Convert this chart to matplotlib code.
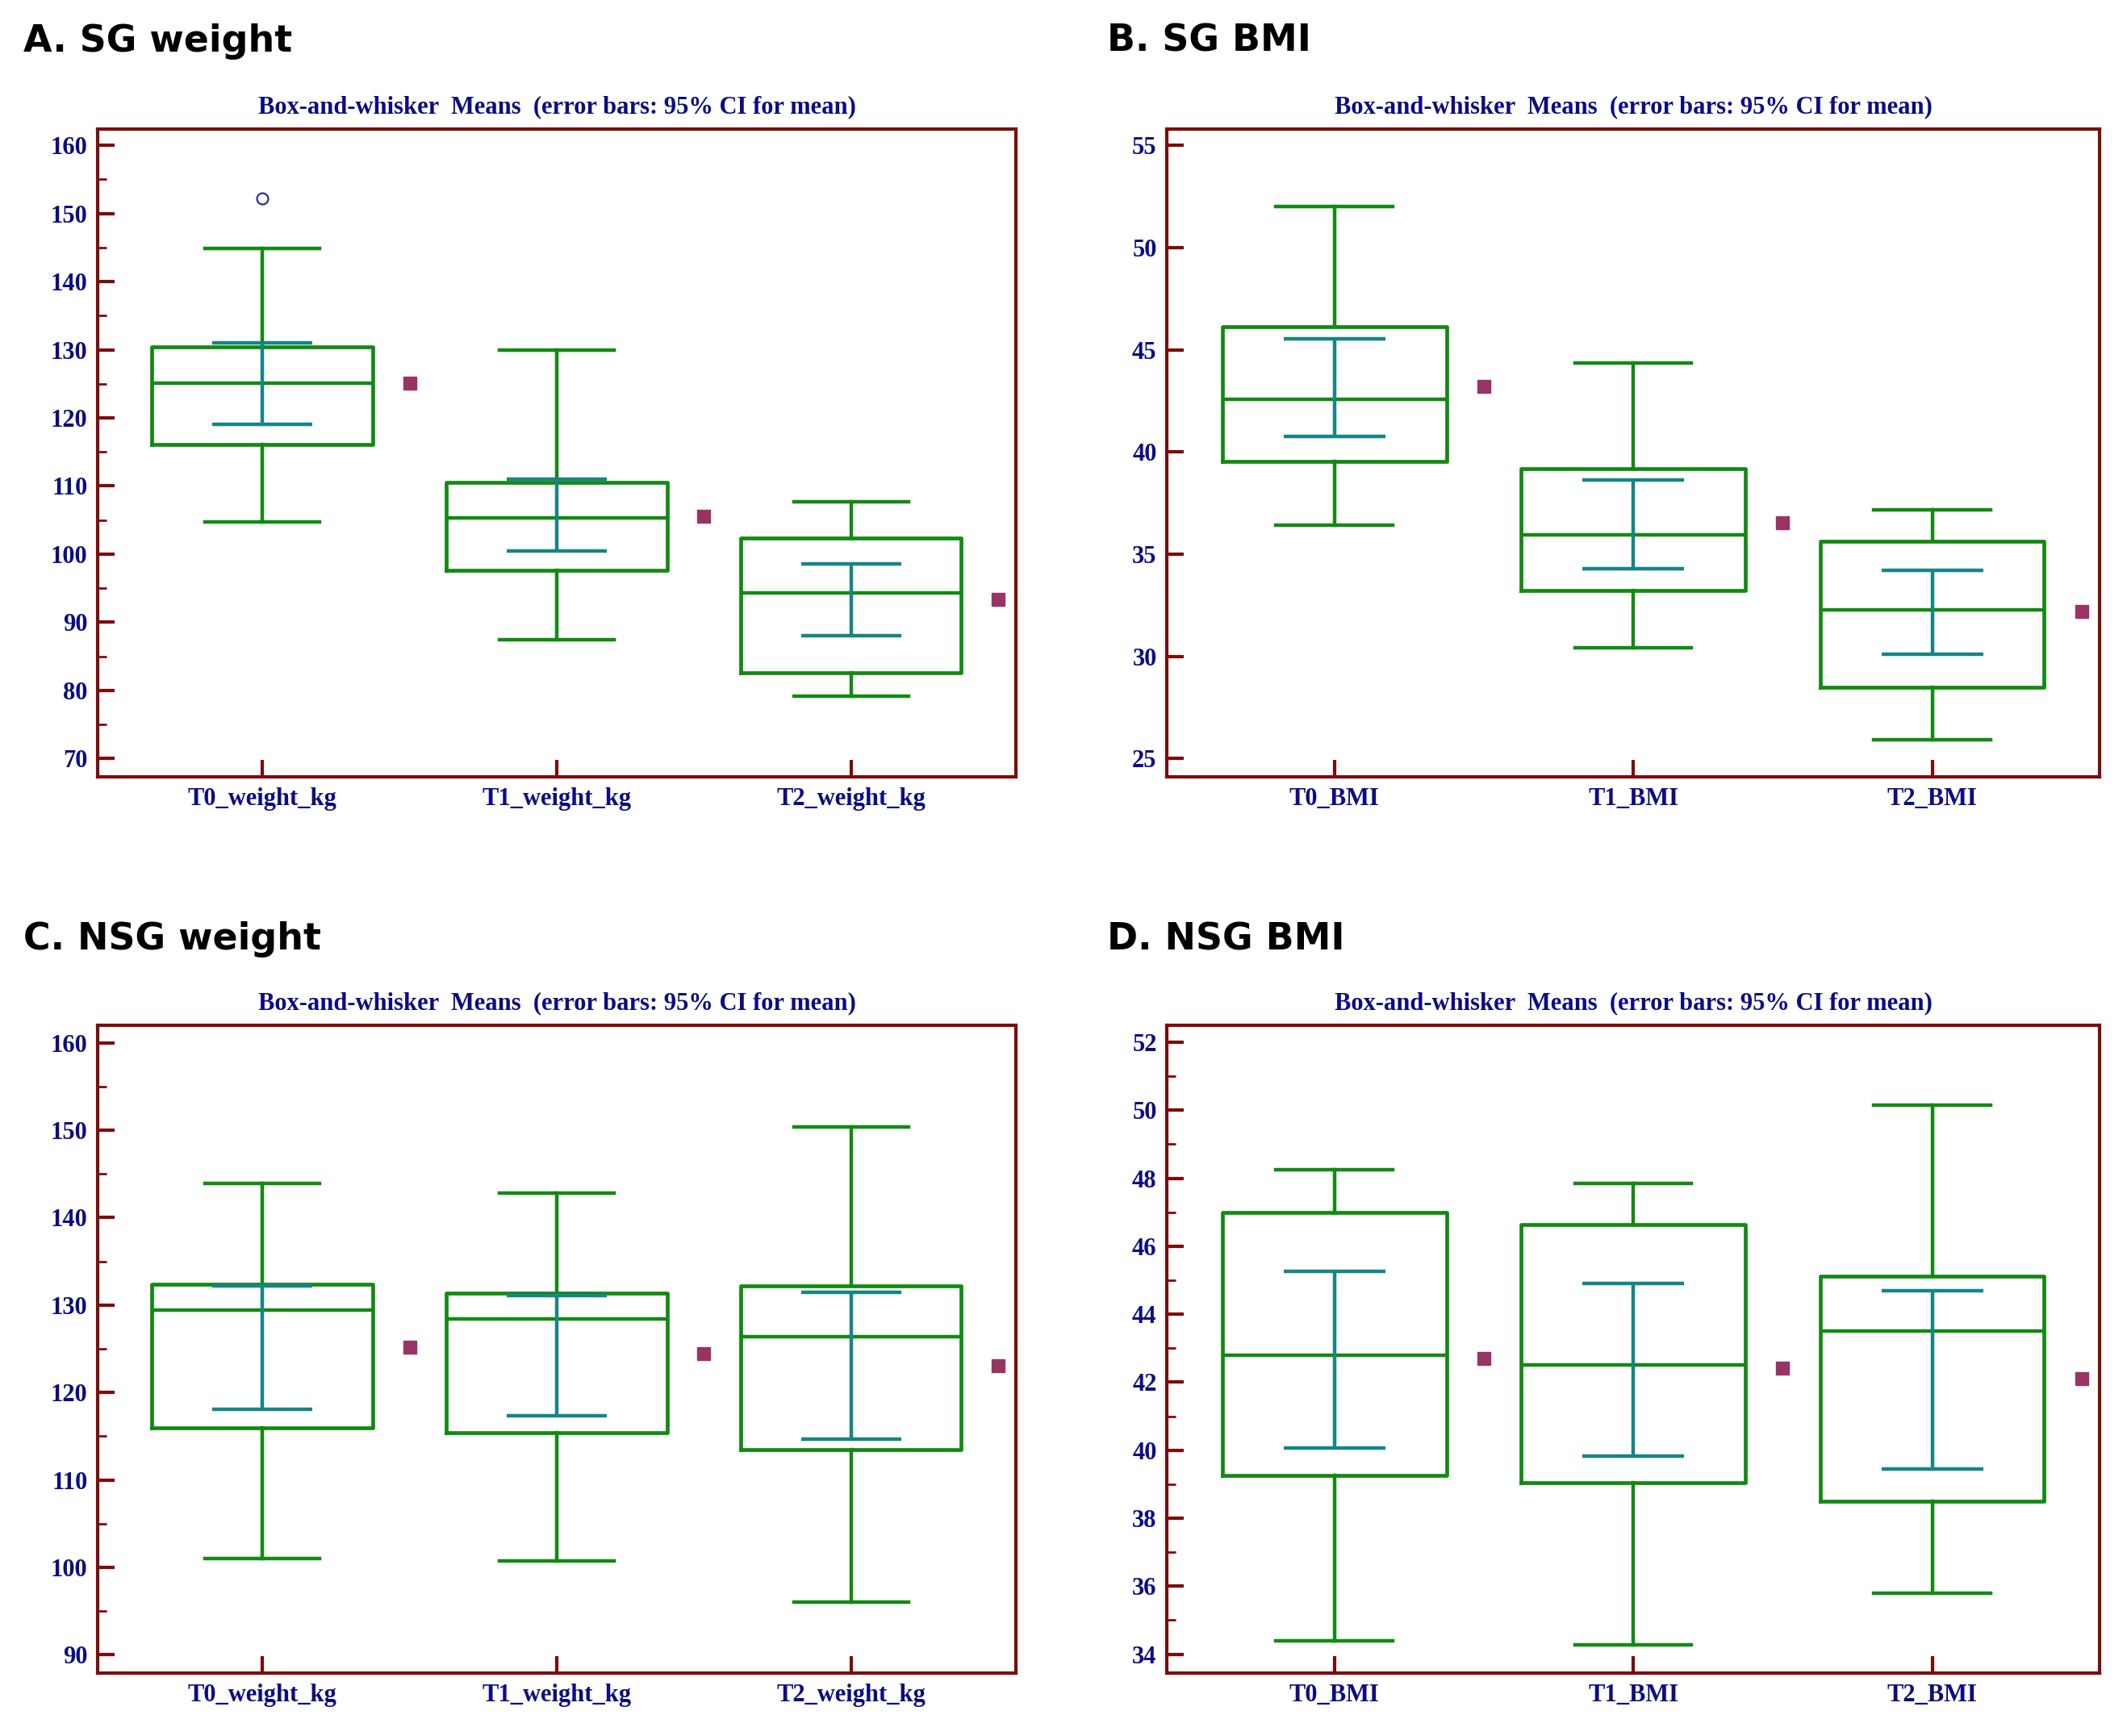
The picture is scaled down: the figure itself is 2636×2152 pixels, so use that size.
import matplotlib
matplotlib.use('Agg')
import matplotlib.pyplot as plt
from matplotlib.ticker import MultipleLocator

# ---- data (whisker low, Q1, median, Q3, whisker high, CI, mean)
weight_labels = ['T0_weight_kg', 'T1_weight_kg', 'T2_weight_kg']
bmi_labels = ['T0_BMI', 'T1_BMI', 'T2_BMI']

sg_weight_whislo = [104.7, 87.4, 79.1]
sg_weight_q1 = [116.1, 97.6, 82.6]
sg_weight_med = [125.1, 105.3, 94.3]
sg_weight_q3 = [130.4, 110.5, 102.3]
sg_weight_whishi = [144.9, 129.9, 107.7]
sg_weight_ci_lo = [119.1, 100.4, 88.0]
sg_weight_ci_hi = [131.0, 111.0, 98.6]
sg_weight_mean = [125.1, 105.6, 93.4]
sg_weight_fliers = [[152.2], [], []]

sg_bmi_whislo = [36.41, 30.40, 25.92]
sg_bmi_q1 = [39.55, 33.22, 28.48]
sg_bmi_med = [42.56, 35.94, 32.27]
sg_bmi_q3 = [46.14, 39.16, 35.62]
sg_bmi_whishi = [52.02, 44.35, 37.18]
sg_bmi_ci_lo = [40.74, 34.28, 30.09]
sg_bmi_ci_hi = [45.53, 38.63, 34.22]
sg_bmi_mean = [43.2, 36.52, 32.19]
sg_bmi_fliers = [[], [], []]

nsg_weight_whislo = [101.0, 100.7, 96.0]
nsg_weight_q1 = [116.0, 115.4, 113.5]
nsg_weight_med = [129.4, 128.4, 126.4]
nsg_weight_q3 = [132.4, 131.4, 132.2]
nsg_weight_whishi = [143.9, 142.8, 150.4]
nsg_weight_ci_lo = [118.1, 117.3, 114.7]
nsg_weight_ci_hi = [132.2, 131.1, 131.5]
nsg_weight_mean = [125.2, 124.4, 123.1]
nsg_weight_fliers = [[], [], []]

nsg_bmi_whislo = [34.40, 34.27, 35.80]
nsg_bmi_q1 = [39.26, 39.04, 38.50]
nsg_bmi_med = [42.79, 42.51, 43.51]
nsg_bmi_q3 = [47.00, 46.64, 45.11]
nsg_bmi_whishi = [48.26, 47.85, 50.14]
nsg_bmi_ci_lo = [40.06, 39.82, 39.45]
nsg_bmi_ci_hi = [45.27, 44.91, 44.69]
nsg_bmi_mean = [42.70, 42.41, 42.11]
nsg_bmi_fliers = [[], [], []]

SPINE = '#7d0c0c'
NAVY = '#0c0c84'
GREEN = '#128a12'
TEAL = '#168585'
MEAN = '#993366'
SERIF = ['Liberation Serif', 'DejaVu Serif']

TITLE = 'Box-and-whisker  Means  (error bars: 95% CI for mean)'


def draw_panel(ax, labels, whislo, q1, med, q3, whishi, ci_lo, ci_hi, mean, fliers,
               ylim, major, minor):
    pos = list(range(len(labels)))
    stats = []
    for i in pos:
        stats.append({
            'whislo': whislo[i], 'q1': q1[i], 'med': med[i],
            'q3': q3[i], 'whishi': whishi[i], 'fliers': fliers[i]
        })
    ax.bxp(
        stats, positions=pos, widths=0.75, capwidths=0.39,
        boxprops=dict(color=GREEN, linewidth=3.4),
        whiskerprops=dict(color=GREEN, linewidth=3.2),
        capprops=dict(color=GREEN, linewidth=3.2),
        medianprops=dict(color=GREEN, linewidth=3.2),
        flierprops=dict(marker='o', markerfacecolor='none', markeredgecolor='#2a2aa0',
                        markersize=10, markeredgewidth=1.6),
        manage_ticks=False
    )
    # 95% CI for the mean
    ax.vlines(pos, ci_lo, ci_hi, color=TEAL, linewidth=3.2, zorder=4)
    ax.hlines(ci_lo, [p - 0.17 for p in pos], [p + 0.17 for p in pos],
              color=TEAL, linewidth=3.2, zorder=4)
    ax.hlines(ci_hi, [p - 0.17 for p in pos], [p + 0.17 for p in pos],
              color=TEAL, linewidth=3.2, zorder=4)
    ax.plot([p + 0.5 for p in pos], mean, 's', color=MEAN, markersize=11, linestyle='none')

    ax.set_xlim(-0.56, 2.56)
    ax.set_ylim(*ylim)
    ax.set_xticks(pos)
    ax.set_xticklabels(labels)
    ax.yaxis.set_major_locator(MultipleLocator(major))
    if minor:
        ax.yaxis.set_minor_locator(MultipleLocator(minor))
    else:
        ax.yaxis.set_minor_locator(plt.NullLocator())

    for s in ax.spines.values():
        s.set_color(SPINE)
        s.set_linewidth(3.0)
    ax.tick_params(axis='both', which='major', direction='in', color=SPINE,
                   width=3.0, length=15, labelcolor=NAVY, labelsize=22, pad=9)
    ax.tick_params(axis='y', which='minor', direction='in', color=SPINE,
                   width=2.0, length=8)
    ax.tick_params(top=False, right=False)
    for t in ax.get_xticklabels() + ax.get_yticklabels():
        t.set_family(SERIF)
        t.set_fontweight('bold')
    ax.set_title(TITLE, color=NAVY, fontsize=22, fontweight='bold',
                 family=SERIF, pad=14)


fig = plt.figure(figsize=(26.36, 21.52), dpi=100)
fig.patch.set_facecolor('white')

ax_a = fig.add_axes([0.0459, 0.5525, 0.4317, 0.3732])
ax_b = fig.add_axes([0.5486, 0.5525, 0.4385, 0.3732])
ax_c = fig.add_axes([0.0459, 0.0362, 0.4317, 0.3732])
ax_d = fig.add_axes([0.5486, 0.0362, 0.4385, 0.3732])

draw_panel(ax_a, weight_labels, sg_weight_whislo, sg_weight_q1, sg_weight_med, sg_weight_q3,
           sg_weight_whishi, sg_weight_ci_lo, sg_weight_ci_hi, sg_weight_mean, sg_weight_fliers,
           (67.3, 162.4), 10, 5)
draw_panel(ax_b, bmi_labels, sg_bmi_whislo, sg_bmi_q1, sg_bmi_med, sg_bmi_q3,
           sg_bmi_whishi, sg_bmi_ci_lo, sg_bmi_ci_hi, sg_bmi_mean, sg_bmi_fliers,
           (24.1, 55.8), 5, None)
draw_panel(ax_c, weight_labels, nsg_weight_whislo, nsg_weight_q1, nsg_weight_med, nsg_weight_q3,
           nsg_weight_whishi, nsg_weight_ci_lo, nsg_weight_ci_hi, nsg_weight_mean, nsg_weight_fliers,
           (87.9, 162.0), 10, 5)
draw_panel(ax_d, bmi_labels, nsg_bmi_whislo, nsg_bmi_q1, nsg_bmi_med, nsg_bmi_q3,
           nsg_bmi_whishi, nsg_bmi_ci_lo, nsg_bmi_ci_hi, nsg_bmi_mean, nsg_bmi_fliers,
           (33.44, 52.5), 2, 1)

label_kw = dict(fontsize=33, fontweight='bold', family=['DejaVu Sans'],
                color='black', va='baseline', ha='left')
fig.text(0.011, 0.9703, 'A. SG weight', **label_kw)
fig.text(0.5205, 0.9703, 'B. SG BMI', **label_kw)
fig.text(0.011, 0.453, 'C. NSG weight', **label_kw)
fig.text(0.5205, 0.453, 'D. NSG BMI', **label_kw)

fig.savefig('out.png', dpi=100)
plt.close(fig)
